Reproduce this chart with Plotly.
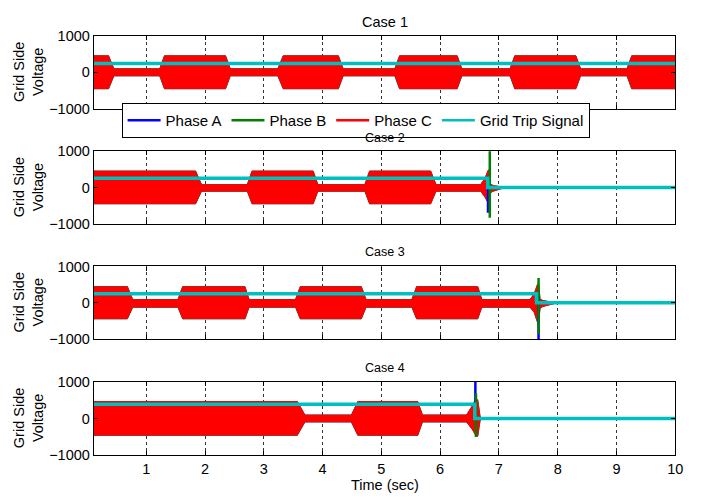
import plotly.graph_objects as go

# ---------------- data ----------------
case_titles = ["Case 1", "Case 2", "Case 3", "Case 4"]
x_ticks = [1, 2, 3, 4, 5, 6, 7, 8, 9, 10]
y_ticks = [-1000, 0, 1000]

# envelope of the three-phase grid side voltage (time, upper, lower)
c1_t = [0.1, 0.36, 0.45, 1.23, 1.31, 2.35, 2.43, 3.24, 3.33, 4.27, 4.35, 5.23, 5.31, 6.29, 6.37, 7.19, 7.27, 8.31, 8.39, 9.18, 9.26, 10.0]
c1_up = [455, 455, 100, 100, 455, 455, 100, 100, 455, 455, 100, 100, 455, 455, 100, 100, 455, 455, 100, 100, 455, 455]
c1_lo = [-450, -450, -95, -95, -450, -450, -95, -95, -450, -450, -95, -95, -450, -450, -95, -95, -450, -450, -95, -95, -450, -450]

c2_t = [0.1, 1.84, 1.94, 2.72, 2.80, 3.84, 3.92, 4.72, 4.80, 5.84, 5.93, 6.69, 6.76, 6.82, 6.84, 6.85, 6.90, 7.08, 7.10, 10.0]
c2_up = [455, 455, 85, 85, 455, 455, 85, 85, 455, 455, 85, 85, 250, 480, 500, 100, 60, 10, 0, 0]
c2_lo = [-445, -445, -100, -100, -445, -445, -100, -100, -445, -445, -100, -100, -250, -430, -380, -150, -100, -10, 0, 0]

c3_t = [0.1, 0.68, 0.77, 1.54, 1.62, 2.68, 2.75, 3.54, 3.62, 4.66, 4.74, 5.52, 5.60, 6.64, 6.71, 7.53, 7.60, 7.66, 7.68, 7.70, 7.75, 7.97, 7.99, 10.0]
c3_up = [445, 445, 90, 90, 445, 445, 90, 90, 445, 445, 90, 90, 445, 445, 90, 90, 250, 520, 480, 100, 60, 10, 0, 0]
c3_lo = [-440, -440, -120, -120, -440, -440, -120, -120, -440, -440, -120, -120, -440, -440, -120, -120, -260, -550, -500, -150, -100, -10, 0, 0]

c4_t = [0.1, 3.57, 3.70, 4.49, 4.60, 5.62, 5.70, 6.45, 6.55, 6.61, 6.64, 6.68, 6.70, 10.0]
c4_up = [460, 460, 95, 95, 460, 460, 95, 95, 350, 540, 500, 60, 0, 0]
c4_lo = [-455, -455, -95, -95, -455, -455, -95, -95, -300, -470, -480, -60, 0, 0]

# transient spikes at the trip instant (time, top, bottom)
spike_a_t = [None, 6.815, 7.675, 6.600]
spike_a_top = [None, 300, 200, 1050]
spike_a_bot = [None, -690, -1050, 0]
spike_b_t = [None, 6.845, 7.675, 6.610]
spike_b_top = [None, 1050, 680, 680]
spike_b_bot = [None, -830, -860, -500]

# grid trip signal: level before trip, trip time
trip_level = [245, 260, 250, 385]
trip_time = [None, 6.81, 7.64, 6.59]

legend_names = ["Phase A", "Phase B", "Phase C", "Grid Trip Signal"]

x_start, x_end = 0.11, 10.0

# ---------------- styling ----------------
W, H = 702, 502
BLUE, GREEN, RED, CYAN = "#0000FF", "#008000", "#FF0000", "#00BFBF"
FONT = "Arial, Liberation Sans, sans-serif"
plot_left, plot_right = 95, 683
rows_px = [(29, 104), (148, 223), (267, 342), (386, 462)]
title_y_px = [14, 134, 252, 372]
title_size = [14.5, 12.5, 12.5, 12.5]

envs = [(c1_t, c1_up, c1_lo), (c2_t, c2_up, c2_lo), (c3_t, c3_up, c3_lo), (c4_t, c4_up, c4_lo)]

fig = go.Figure()
annotations = []

for i in range(4):
    xa = "x" if i == 0 else f"x{i+1}"
    ya = "y" if i == 0 else f"y{i+1}"
    t, up, lo = envs[i]
    poly_x = list(t) + list(t[::-1])
    poly_y = list(up) + list(lo[::-1])
    for col in (BLUE, GREEN, RED):
        fig.add_trace(go.Scatter(x=poly_x, y=poly_y, fill="toself", fillcolor=col,
                                 mode="lines", line=dict(color=col, width=0.6),
                                 showlegend=False, hoverinfo="skip", xaxis=xa, yaxis=ya))
    if spike_a_t[i] is not None:
        fig.add_trace(go.Scatter(x=[spike_a_t[i], spike_a_t[i]], y=[spike_a_top[i], spike_a_bot[i]],
                                 mode="lines", line=dict(color=BLUE, width=2.5),
                                 showlegend=False, xaxis=xa, yaxis=ya))
        fig.add_trace(go.Scatter(x=[spike_b_t[i], spike_b_t[i]], y=[spike_b_top[i], spike_b_bot[i]],
                                 mode="lines", line=dict(color=GREEN, width=2.5),
                                 showlegend=False, xaxis=xa, yaxis=ya))
    if trip_time[i] is None:
        sx, sy = [0.1, 10.0], [trip_level[i], trip_level[i]]
    else:
        sx = [0.1, trip_time[i], trip_time[i], 10.0]
        sy = [trip_level[i], trip_level[i], 0, 0]
    fig.add_trace(go.Scatter(x=sx, y=sy, mode="lines", line=dict(color=CYAN, width=3.5),
                             showlegend=False, xaxis=xa, yaxis=ya))

    top, bot = rows_px[i]
    axis_common = dict(showline=True, linecolor="black", linewidth=1.3, mirror="ticks",
                       ticks="inside", ticklen=4, tickcolor="black", tickwidth=1,
                       showgrid=True, gridcolor="#333333", griddash="dot", gridwidth=1,
                       zeroline=False, tickfont=dict(family=FONT, size=14.5, color="black"))
    fig.update_layout(**{
        ("xaxis" if i == 0 else f"xaxis{i+1}"): dict(
            domain=[plot_left / W, plot_right / W], anchor=ya, range=[x_start, x_end],
            tickvals=x_ticks, showticklabels=(i == 3), **axis_common),
        ("yaxis" if i == 0 else f"yaxis{i+1}"): dict(
            domain=[1 - bot / H, 1 - top / H], anchor=xa, range=[-1000, 1000],
            tickvals=y_ticks, **axis_common),
    })
    annotations.append(dict(text=case_titles[i], x=(plot_left + plot_right) / 2 / W,
                            y=1 - title_y_px[i] / H, xref="paper", yref="paper",
                            showarrow=False, xanchor="center", yanchor="middle",
                            font=dict(family=FONT, size=title_size[i], color="black")))
    annotations.append(dict(text="Grid Side<br>Voltage", x=29 / W, y=1 - (top + bot) / 2 / H,
                            xref="paper", yref="paper", showarrow=False, textangle=-90,
                            xanchor="center", yanchor="middle",
                            font=dict(family=FONT, size=14.5, color="black")))

annotations.append(dict(text="Time (sec)", x=(plot_left + plot_right) / 2 / W, y=1 - 493 / H,
                        xref="paper", yref="paper", showarrow=False, xanchor="center",
                        yanchor="middle", font=dict(family=FONT, size=14.5, color="black")))

# legend entries
for name, col in zip(legend_names, [BLUE, GREEN, RED, CYAN]):
    fig.add_trace(go.Scatter(x=[None], y=[None], mode="lines", name=name,
                             line=dict(color=col, width=2.5)))

fig.update_layout(
    width=W, height=H, margin=dict(l=0, r=0, t=0, b=0),
    paper_bgcolor="white", plot_bgcolor="white",
    annotations=annotations,
    showlegend=True,
    legend=dict(orientation="h", x=123 / W, y=1 - 98 / H, xanchor="left", yanchor="top",
                bgcolor="white", bordercolor="black", borderwidth=1, itemwidth=33,
                font=dict(family=FONT, size=15, color="black"), tracegroupgap=0),
)

fig.write_html("out.html")
